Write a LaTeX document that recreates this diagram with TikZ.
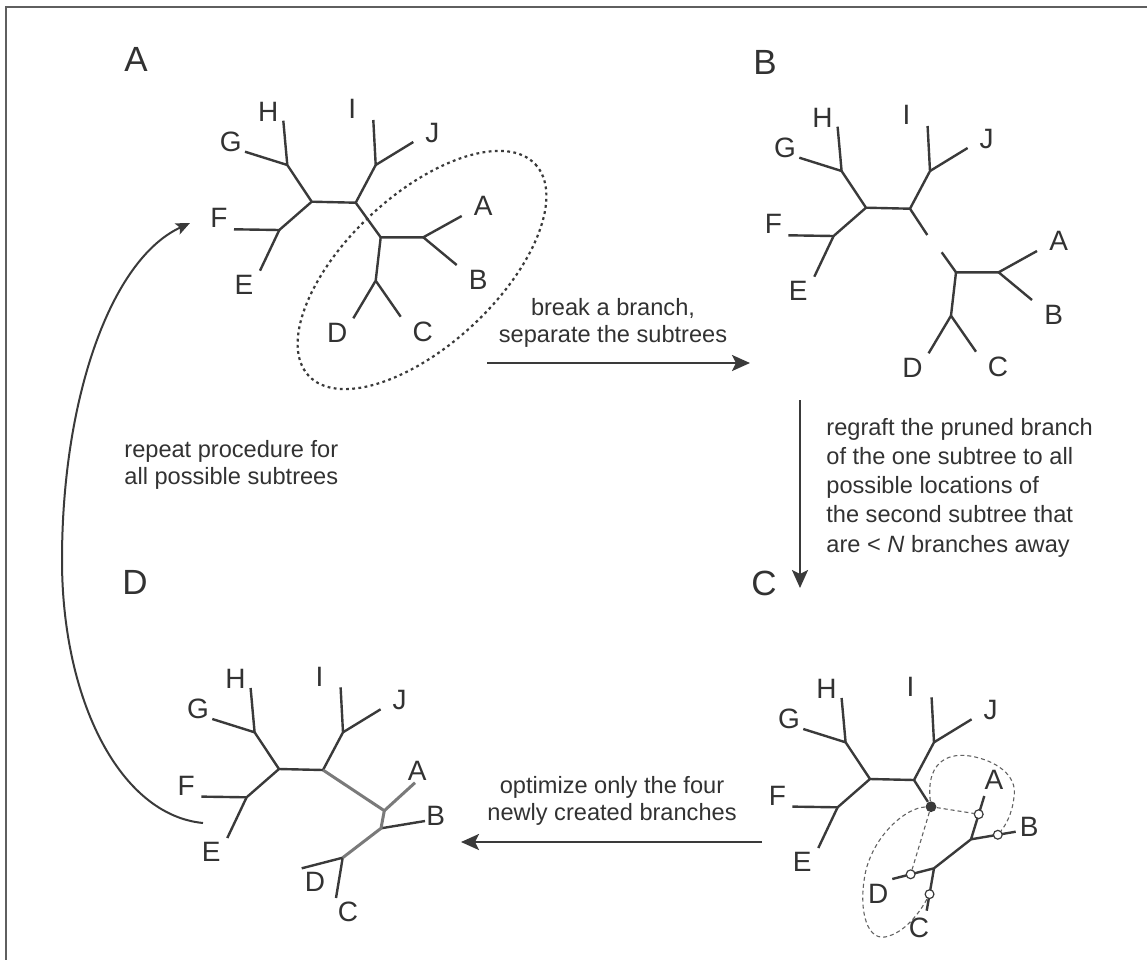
\documentclass[tikz,border=0pt]{standalone}
\usepackage{fontspec}
\setmainfont{Liberation Sans}
\usetikzlibrary{arrows.meta,calc}
\definecolor{treeColor}{RGB}{58,58,58}
\definecolor{labelColor}{RGB}{50,50,50}
\definecolor{newBranchColor}{RGB}{122,122,122}
\definecolor{frameColor}{RGB}{95,95,95}
\tikzstyle{pixelGrid} = [x = 0.5pt, y = -0.5pt]
\tikzstyle{branchLine} = [color=treeColor, line width=1.2pt, line join=round]
\tikzstyle{newBranchLine} = [color=newBranchColor, line width=1.5pt, line join=round]
\tikzstyle{leafText} = [color=labelColor, font=\fontsize{14}{16}\selectfont, inner sep=0pt]
\tikzstyle{panelText} = [color=labelColor, font=\fontsize{17.5}{20}\selectfont, inner sep=0pt]
\tikzstyle{captionText} = [color=labelColor, inner sep=0pt]
\tikzstyle{flowArrow} = [color=treeColor, line width=1.3pt, -{Stealth[length=9pt, width=8pt, inset=2pt]}]
\tikzstyle{loopArrow} = [color=treeColor, line width=1pt, -{Stealth[length=7pt, width=6pt, inset=1.5pt]}]
\tikzstyle{subtreeOutline} = [color=treeColor, line width=1.1pt, dash pattern=on 1.4pt off 1.7pt]
\tikzstyle{searchLine} = [color=newBranchColor!80!black, line width=0.55pt, dash pattern=on 2pt off 1.5pt]
\tikzstyle{openDot} = [circle, draw=treeColor, fill=white, line width=0.6pt, inner sep=0pt, minimum size=4.4pt]
\tikzstyle{graftDot} = [circle, fill=treeColor, inner sep=0pt, minimum size=5.4pt]
\tikzstyle{frameLine} = [color=frameColor, line width=1pt]
% the part with E to J, same in every panel
\newcommand{\upperTree}[3]{
  \begin{scope}[shift={(#2,#3)}]
    \coordinate (#1H) at (283.3,120.7);
    \coordinate (#1HG) at (287.3,165);
    \coordinate (#1G) at (245,151.7);
    \coordinate (#1F) at (234,229.3);
    \coordinate (#1FE) at (279.3,230);
    \coordinate (#1E) at (260,270.7);
    \coordinate (#1left) at (311.7,201.7);
    \coordinate (#1right) at (355.7,202.7);
    \coordinate (#1IJ) at (375.7,165);
    \coordinate (#1I) at (373.3,120);
    \coordinate (#1J) at (413.3,142);
    \draw [branchLine] (#1H) -- (#1HG) -- (#1G);
    \draw [branchLine] (#1HG) -- (#1left) -- (#1right) -- (#1IJ) -- (#1I);
    \draw [branchLine] (#1IJ) -- (#1J);
    \draw [branchLine] (#1left) -- (#1FE) -- (#1F);
    \draw [branchLine] (#1FE) -- (#1E);
    \node [leafText] (#1labH) at (268.3,111.7) {H};
    \node [leafText] (#1labG) at (230.7,141.7) {G};
    \node [leafText] (#1labI) at (352.3,109.3) {I};
    \node [leafText] (#1labJ) at (432.3,132.7) {J};
    \node [leafText] (#1labF) at (219,218.3) {F};
    \node [leafText] (#1labE) at (244,285) {E};
  \end{scope}
}
% the subtree with A to D
\newcommand{\lowerTree}[3]{
  \begin{scope}[shift={(#2,#3)}]
    \coordinate (#1root) at (380.7,237.3);
    \coordinate (#1AB) at (423.3,237.3);
    \coordinate (#1A) at (461.7,216);
    \coordinate (#1B) at (456.7,265);
    \coordinate (#1CD) at (375.7,280.7);
    \coordinate (#1D) at (353.3,318.3);
    \coordinate (#1C) at (400.7,316.7);
    \draw [branchLine] (#1A) -- (#1AB) -- (#1B);
    \draw [branchLine] (#1AB) -- (#1root) -- (#1CD) -- (#1D);
    \draw [branchLine] (#1CD) -- (#1C);
    \node [leafText] (#1labA) at (483.3,206) {A};
    \node [leafText] (#1labB) at (478.3,280) {B};
    \node [leafText] (#1labD) at (337.3,333.3) {D};
    \node [leafText] (#1labC) at (422.7,331.7) {C};
  \end{scope}
}

\begin{document}
\begin{tikzpicture}[pixelGrid]
  \useasboundingbox (0,0) rectangle (1147,960);
  \coordinate (frameEnd) at (1147,7);
  \coordinate (frameCorner) at (6,7);
  \coordinate (frameFoot) at (6,960);
  \draw [frameLine] (frameEnd) -- (frameCorner) -- (frameFoot);

  \node [panelText] (panelA) at (136,59) {A};
  \node [panelText] (panelB) at (765,62) {B};
  \node [panelText] (panelC) at (764,583) {C};
  \node [panelText] (panelD) at (135,582) {D};

  % A: whole tree
  \upperTree{a}{0}{0}
  \lowerTree{a}{0}{0}
  \draw [branchLine] (aright) -- (aroot);
  \coordinate (aOutline) at (422,270);
  \draw [subtreeOutline, rotate around={43:(aOutline)}] (aOutline) ellipse [x radius=155, y radius=75];

  % B: broken branch
  \upperTree{b}{554.3}{6}
  \lowerTree{b}{575.3}{35}
  \coordinate (bStubTop) at (927.3,235);
  \coordinate (bStubLow) at (941.7,252.3);
  \draw [branchLine] (bright) -- (bStubTop);
  \draw [branchLine] (bStubLow) -- (broot);

  % C: regraft positions
  \upperTree{c}{558.3}{577.3}
  \coordinate (cP) at (971,839.3);
  \coordinate (cAend) at (984.3,796);
  \coordinate (cBend) at (1015.7,831.7);
  \coordinate (cQ) at (934,868.3);
  \coordinate (cDend) at (892.3,879);
  \coordinate (cCend) at (926.7,910.7);
  \draw [branchLine] (cAend) -- (cP) -- (cBend);
  \draw [branchLine] (cP) -- (cQ) -- (cDend);
  \draw [branchLine] (cQ) -- (cCend);
  \node [graftDot] (cGraft) at (931,806.7) {};
  \draw [branchLine] (cright) -- (cGraft);
  \node [openDot] (cSpotA) at ($(cP)!0.58!(cAend)$) {};
  \node [openDot] (cSpotB) at ($(cP)!0.6!(cBend)$) {};
  \node [openDot] (cSpotD) at ($(cQ)!0.56!(cDend)$) {};
  \node [openDot] (cSpotC) at ($(cQ)!0.61!(cCend)$) {};
  \draw [searchLine] (cGraft) -- (cSpotA);
  \draw [searchLine] (cGraft) -- (cSpotD);
  \draw [searchLine] (cGraft) .. controls (926,765) and (945,752) .. (970,756)
    .. controls (995,760) and (1018,775) .. (1014,797)
    .. controls (1012,815) and (1005,826) .. (cSpotB);
  \draw [searchLine] (cGraft) .. controls (905,808) and (875,835) .. (866,870)
    .. controls (858,905) and (865,940) .. (885,937)
    .. controls (905,933) and (920,912) .. (cSpotC);
  \node [leafText] (clabA) at (994,780) {A};
  \node [leafText] (clabB) at (1029.3,826.7) {B};
  \node [leafText] (clabD) at (878.3,894.3) {D};
  \node [leafText] (clabC) at (919,928.3) {C};

  % D: optimized tree
  \upperTree{d}{-32.7}{567.3}
  \coordinate (dP) at (384.3,810.7);
  \coordinate (dAend) at (415,782.7);
  \coordinate (dQ) at (381,828.3);
  \coordinate (dBend) at (425,821);
  \coordinate (dR) at (342.7,857.7);
  \coordinate (dDend) at (301.7,868.3);
  \coordinate (dCend) at (336,898);
  \draw [branchLine] (dQ) -- (dBend);
  \draw [branchLine] (dDend) -- (dR) -- (dCend);
  \draw [newBranchLine] (dright) -- (dP) -- (dAend);
  \draw [newBranchLine] (dP) -- (dQ) -- (dR);
  \node [leafText] (dlabA) at (417.3,770.7) {A};
  \node [leafText] (dlabB) at (435.7,815.7) {B};
  \node [leafText] (dlabD) at (315,882) {D};
  \node [leafText] (dlabC) at (348,912) {C};

  % steps between the panels
  \coordinate (breakFrom) at (487,363);
  \coordinate (breakTo) at (750,363);
  \draw [flowArrow] (breakFrom) -- (breakTo);
  \node [captionText, align=center, font=\fontsize{11.8}{13.4}\selectfont] (breakText) at (613,323)
    {break a branch,\\separate the subtrees};

  \coordinate (graftFrom) at (800,400);
  \coordinate (graftTo) at (800,588);
  \draw [flowArrow] (graftFrom) -- (graftTo);
  \node [captionText, align=left, anchor=west, font=\fontsize{11.8}{14.6}\selectfont] (graftText) at (826,487.5)
    {regraft the pruned branch\\of the one subtree to all\\possible locations of\\the second subtree that\\are < \textit{N} branches away};

  \coordinate (optimizeFrom) at (762,842);
  \coordinate (optimizeTo) at (461,842);
  \draw [flowArrow] (optimizeFrom) -- (optimizeTo);
  \node [captionText, align=center, font=\fontsize{11.8}{13.6}\selectfont] (optimizeText) at (612,801)
    {optimize only the four\\newly created branches};

  \coordinate (repeatFrom) at (203,823);
  \coordinate (repeatTo) at (190,223);
  \draw [loopArrow] (repeatFrom) .. controls (120,815) and (62,700) .. (62,560)
    .. controls (62,400) and (110,260) .. (repeatTo);
  \node [captionText, align=left, anchor=west, font=\fontsize{11.8}{13.4}\selectfont] (repeatText) at (124,465)
    {repeat procedure for\\all possible subtrees};
\end{tikzpicture}
\end{document}
